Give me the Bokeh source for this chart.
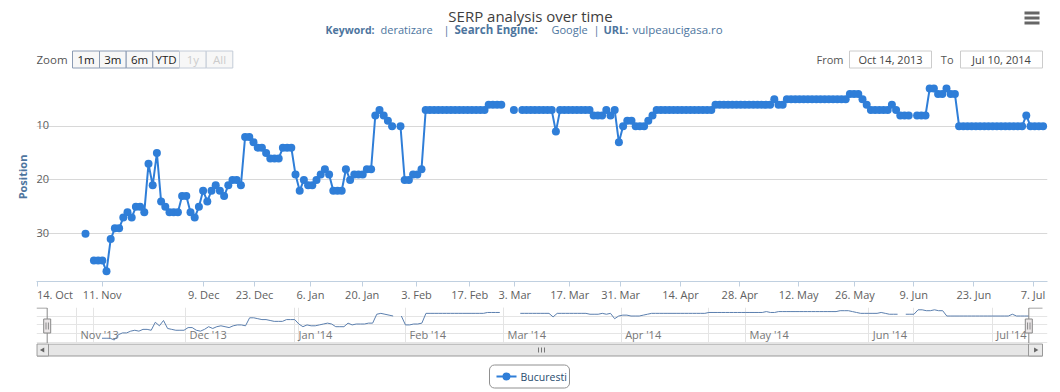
import numpy as np
from bokeh.plotting import figure
from bokeh.models import Range1d, FixedTicker, CustomJSTickFormatter, Grid, Quad
from bokeh.layouts import column
from bokeh.embed import file_html
from bokeh.resources import INLINE
from bokeh.core.properties import value

N = None
# ---- data: SERP position per (ordinal) observation, None = no data ----
pos_oct_dec = [30, N, 35, 35, 35, 37, 31, 29, 29, 27, 26, 27, 25, 25, 26, 17, 21, 15, 24, 25,
               26, 26, 26, 23, 23, 26, 27, 25, 22, 24, 22, 21, 22, 23, 21, 20, 20, 21]
pos_dec_feb = [12, 12, 13, 14, 14, 15, 16, 16, 16, 14, 14, 14, 19, 22, 20, 21, 21, 20, 19, 18,
               19, 22, 22, 22, 18, 20, 19, 19, 19, 18, 18, 8, 7, 8, 9, 10, N, 10, 20, 20,
               19, 19, 18]
pos_feb_apr = [7, 7, 7, 7, 7, 7, 7, 7, 7, 7, 7, 7, 7, 7, 7, 6, 6, 6, 6, N,
               N, 7, N, 7, 7, 7, 7, 7, 7, 7, 7, 11, 7, 7, 7, 7, 7, 7, 7, 7,
               8, 8, 8, 7, 8, 7, 13, 10, 9, 9, 10, 10, 10, 9, 8]
pos_apr_jul = [7, 7, 7, 7, 7, 7, 7, 7, 7, 7, 7, 7, 7, 7,
               6, 6, 6, 6, 6, 6, 6, 6, 6, 6, 6, 6, 6, 6,
               5, 6, 6,
               5, 5, 5, 5, 5, 5, 5, 5, 5, 5, 5, 5, 5, 5, 5,
               4, 4, 4, 5, 6, 7, 7, 7, 7, 7, 6, 7, 8, 8, 8, N, 8, 8, 8,
               3, 3, 4, 4, 3, 4, 4,
               10, 10, 10, 10, 10, 10, 10, 10, 10, 10, 10, 10, 10, 10, 10, 10,
               8, 10, 10, 10, 10]
series_name = "Bucuresti"

# x axis ticks (ordinal positions) and labels
tick_pos = [-11.36, 3.98, 28.17, 40.24, 53.57, 65.88, 78.81, 91.5, 102.2, 115.3, 127.4,
            141.67, 155.8, 169.8, 183.2, 197.2, 211.5, 225.6]
tick_labels = ["14. Oct", "11. Nov", "9. Dec", "23. Dec", "6. Jan", "20. Jan", "3. Feb",
               "17. Feb", "3. Mar", "17. Mar", "31. Mar", "14. Apr", "28. Apr", "12. May",
               "26. May", "9. Jun", "23. Jun", "7. Jul"]
y_ticks = [0, 10, 20, 30]
y_labels = ["10", "20", "30"]
nav_tick_pos = [-4.22, 22.38, 48.96, 76.03, 99.93, 128.6, 158.92, 188.99, 219.08]
nav_labels = ["Nov '13", "Dec '13", "Jan '14", "Feb '14", "Mar '14", "Apr '14", "May '14",
              "Jun '14", "Jul '14"]
zoom_buttons = ["1m", "3m", "6m", "YTD", "1y", "All"]
date_from = "Oct 14, 2013"
date_to = "Jul 10, 2014"

positions = pos_oct_dec + pos_dec_feb + pos_feb_apr + pos_apr_jul
y = np.array([np.nan if v is None else v for v in positions], dtype=float)
x = np.arange(len(y))

FONT = value("Open Sans")
BLUE = "#2f7ed8"
W = 1060
FL, FR = 36, 1047            # frame left / right (page px), shared by all rows
BL, BR = FL, W - FR


def blank(h):
    f = figure(width=W, height=h, x_range=Range1d(FL, FR), y_range=Range1d(h, 0),
               x_axis_location=None, y_axis_location=None, output_backend="svg",
               toolbar_location=None, min_border_left=BL, min_border_right=BR,
               min_border_top=0, min_border_bottom=0)
    f.outline_line_color = None
    f.grid.visible = False
    return f


# ---------------- header (page y 0..72) ----------------
hdr = blank(72)
hdr.text(x=[530], y=[15], text=["SERP analysis over time"], text_align="center",
         text_baseline="middle", text_font=FONT, text_font_size="15px", text_color="#3e3e3e")
sub_x = [325, 380, 443, 454, 551, 593, 603, 632]
sub_t = ["Keyword:", "deratizare", "|", "Search Engine:", "Google", "|", "URL:", "vulpeaucigasa.ro"]
sub_b = [True, False, False, True, False, False, True, False]
sub_s = ["10.5px", "11px", "11px", "11.5px", "11px", "11px", "11px", "11.5px"]
for sx, st, sb, ss in zip(sub_x, sub_t, sub_b, sub_s):
    hdr.text(x=[sx], y=[29], text=[st], text_align="left", text_baseline="middle",
             text_font=FONT, text_font_size=ss,
             text_font_style="bold" if sb else "normal", text_color="#4d759e")
# menu icon
hdr.segment(x0=[1024] * 3, x1=[1039] * 3, y0=[12.5, 17.5, 22.5], y1=[12.5, 17.5, 22.5],
            line_color="#666666", line_width=3)
# range selector
hdr.text(x=[36], y=[59], text=["Zoom"], text_baseline="middle", text_font=FONT,
         text_font_size="11.5px", text_color="#555555")
edges = [72, 99, 125.7, 152.3, 179, 205.7, 232.3]
for i, lab in enumerate(zoom_buttons):
    enabled = i < 4
    hdr.quad(left=[edges[i]], right=[edges[i + 1]], top=[50.5], bottom=[67.5],
             fill_color="#f7f7f7", line_color="#8c9cb4" if enabled else "#c4ccd8", line_width=1)
    hdr.text(x=[(edges[i] + edges[i + 1]) / 2], y=[59], text=[lab], text_align="center",
             text_baseline="middle", text_font=FONT, text_font_size="11.5px",
             text_color="#222222" if enabled else "#cccccc")
hdr.text(x=[843], y=[59], text=["From"], text_align="right", text_baseline="middle",
         text_font=FONT, text_font_size="11px", text_color="#555555")
hdr.text(x=[953], y=[59], text=["To"], text_align="right", text_baseline="middle",
         text_font=FONT, text_font_size="11px", text_color="#555555")
for l, r, t in [(849, 931, date_from), (960, 1042, date_to)]:
    hdr.quad(left=[l], right=[r], top=[50.5], bottom=[67.5], fill_color="white",
             line_color="#cccccc", line_width=1)
    hdr.text(x=[(l + r) / 2], y=[59], text=[t], text_align="center", text_baseline="middle",
             text_font=FONT, text_font_size="11px", text_color="#444444")

# ---------------- main chart (frame page y 72..282) ----------------
x_start, x_end = -11.667, 229.05
y_bottom = 38.9
main = figure(width=W, height=232, x_range=Range1d(x_start, x_end),
              y_range=Range1d(y_bottom, 0), output_backend="svg", toolbar_location=None,
              min_border_left=BL, min_border_right=BR, min_border_top=0, min_border_bottom=22)
main.outline_line_color = None
xa = main.xaxis[0]
xa.ticker = FixedTicker(ticks=tick_pos)
disp_labels = list(tick_labels)
disp_labels[0] = "\u00a0" * 12 + tick_labels[0]
xa.formatter = CustomJSTickFormatter(args=dict(pos=tick_pos, labels=disp_labels), code="""
    let best = 0, bd = 1e9;
    for (let i = 0; i < pos.length; i++) {
        const d = Math.abs(pos[i] - tick);
        if (d < bd) { bd = d; best = i; }
    }
    return labels[best];
""")
xa.axis_line_color = "#C0D0E0"
xa.major_tick_line_color = "#C0D0E0"
xa.major_tick_out = 5
xa.major_tick_in = 0
xa.minor_tick_line_color = None
xa.major_label_standoff = 0
xa.major_label_text_font = "Open Sans"
xa.major_label_text_font_size = "11px"
xa.major_label_text_color = "#606060"

ya = main.yaxis[0]
ya.ticker = FixedTicker(ticks=[])
ya.axis_label = "Position"
ya.axis_label_text_font = "Open Sans"
ya.axis_label_text_font_style = "bold"
ya.axis_label_text_font_size = "11px"
ya.axis_label_text_color = "#4d759e"
ya.axis_label_standoff = 7
ya.axis_line_color = None
ya.major_tick_line_color = None
ya.minor_tick_line_color = None
ya.major_label_text_font_size = "0px"
ya.major_label_standoff = 0

main.xgrid.visible = False
main.ygrid[0].ticker = FixedTicker(ticks=y_ticks)
main.ygrid[0].grid_line_color = "#D8D8D8"

main.text(x=[x_start] * len(y_labels), y=[float(v) for v in y_labels], text=y_labels,
          text_baseline="alphabetic", y_offset=-1, text_font=FONT, text_font_size="11px",
          text_color="#606060")
main.line(x, y, line_color=BLUE, line_width=2)
main.scatter(x, y, size=8, fill_color=BLUE, line_color=None)

# ---------------- navigator (frame page y 307..343) ----------------
sel_start, sel_end = tick_pos[0], float(x[-1])
h_left, h_right, nav_right_px = 46.7, 1028.3, 1042.0   # page px of handles / nav right end
k = (sel_end - sel_start) / (h_right - h_left)
nav_start = sel_start - (h_left - FL) * k
nav_end = sel_end + (FR - h_right) * k
nav_rend = sel_end + (nav_right_px - h_right) * k
nav_top, nav_bot = 0.41, 40.9
nav = figure(width=W, height=39, x_range=Range1d(nav_start, nav_end),
             y_range=Range1d(nav_bot, nav_top), x_axis_location=None, y_axis_location=None,
             output_backend="svg", toolbar_location=None,
             min_border_left=BL, min_border_right=BR, min_border_top=3, min_border_bottom=0)
nav.outline_line_color = None
nav.add_layout(Grid(dimension=0, ticker=FixedTicker(ticks=nav_tick_pos),
                    grid_line_color="#e4e4e4"))
nav.text(x=nav_tick_pos, y=[nav_bot] * len(nav_tick_pos), text=nav_labels, x_offset=4,
         y_offset=-2, text_baseline="bottom", text_font=FONT, text_font_size="11px",
         text_color="#777777")
nav.line(x, y, line_color="#5b7fae", line_width=1)
ppu = 36.0 / (nav_bot - nav_top)
top_line = nav_top + 0.5 / ppu
nav.line([nav_start, sel_start, sel_start, sel_end, sel_end, nav_rend],
         [top_line, top_line, nav_bot, nav_bot, top_line, top_line],
         line_color="#888888", line_width=1)
hy = nav_top + 18.5 / ppu
nav.rect(x=[sel_start, sel_end], y=[hy, hy], width=7, height=14, width_units="screen",
         height_units="screen", fill_color="#ebe7e8", line_color="#888888")
for sx in (sel_start, sel_end):
    nav.segment(x0=[sx - 1.2 * k, sx + 1.2 * k], x1=[sx - 1.2 * k, sx + 1.2 * k],
                y0=[hy - 3.5 / ppu] * 2, y1=[hy + 3.5 / ppu] * 2, line_color="#888888")

# ---------------- scrollbar + legend (page y 343..392) ----------------
ftr = blank(49)
ftr.quad(left=[36.5], right=[1042], top=[0.5], bottom=[12.5], fill_color="#e6e6e6",
         line_color="#999999")
ftr.quad(left=[36.5, 1028], right=[48, 1042], top=[0.5, 0.5], bottom=[12.5, 12.5],
         fill_color="#e9e9e9", line_color="#999999")
ftr.scatter(x=[42.3, 1035], y=[6.5, 6.5], marker="triangle", angle=[np.pi / 2, -np.pi / 2],
            size=5, fill_color="#666666", line_color=None)
ftr.segment(x0=[538, 541, 544], x1=[538, 541, 544], y0=[4] * 3, y1=[9] * 3,
            line_color="#777777")
qkw = dict(left=[489], right=[569], top=[21.5], bottom=[44.5], fill_color="white",
           line_color="#909090", line_width=1)
if "border_radius" in Quad.properties():
    qkw["border_radius"] = 5
ftr.quad(**qkw)
ftr.line([496, 516], [33, 33], line_color=BLUE, line_width=2)
ftr.scatter([506], [33], size=8, fill_color=BLUE, line_color=None)
ftr.text(x=[520], y=[33], text=[series_name], text_baseline="middle", text_font=FONT,
         text_font_size="10.5px", text_color="#274b6d")

layout = column(hdr, main, nav, ftr, spacing=0)
open("out.html", "w").write(file_html(layout, INLINE))
